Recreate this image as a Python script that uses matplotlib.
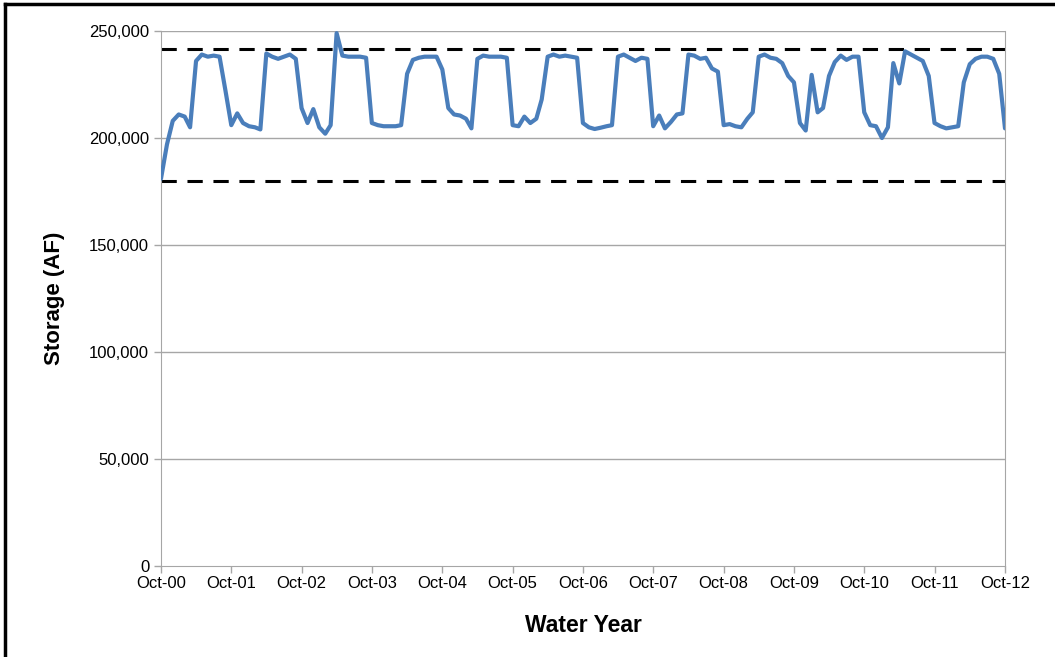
import pandas as pd
import matplotlib
matplotlib.use("Agg")
import matplotlib.pyplot as plt
import matplotlib.dates as mdates
from matplotlib.lines import Line2D
from matplotlib.ticker import FuncFormatter

plt.rcParams['font.family'] = ['Liberation Sans', 'DejaVu Sans']

# monthly storage (AF), Oct-00 .. Oct-12
storage = [
    181000, 197000, 208000, 211000, 210000, 205000, 236000, 239000, 238000, 238500, 238000, 222000,
    206000, 211500, 207000, 205500, 205000, 204000, 239500, 238000, 237000, 238000, 239000, 237000,
    214000, 207000, 213500, 205000, 202000, 206000, 249000, 238500, 238000, 238000, 238000, 237500,
    207000, 206000, 205500, 205500, 205500, 206000, 230000, 236500, 237500, 238000, 238000, 238000,
    232000, 214000, 211000, 210500, 209000, 204500, 237000, 238500, 238000, 238000, 238000, 237500,
    206000, 205500, 210000, 207000, 209000, 218000, 238000, 239000, 238000, 238500, 238000, 237500,
    207000, 205000, 204200, 204800, 205500, 206000, 238000, 239000, 237500, 236000, 237500, 237000,
    205500, 210500, 204500, 207500, 211000, 211500, 239000, 238500, 237000, 237500, 232500, 231000,
    206000, 206500, 205500, 205000, 209000, 212000, 238000, 239000, 237500, 237000, 235000, 229000,
    226000, 207000, 203500, 229500, 212000, 214000, 229000, 235500, 238500, 236500, 238000, 238000,
    212000, 206000, 205500, 200000, 205000, 235000, 225500, 240500, 239000, 237500, 236000, 229000,
    207000, 205500, 204500, 205000, 205500, 226000, 234500, 237000, 238000, 238000, 237000, 230000,
    204500,
]
dates = pd.date_range('2000-10-01', periods=len(storage), freq='MS')

upper_limit = 241500
lower_limit = 180000
y_ticks = [0, 50000, 100000, 150000, 200000, 250000]
x_ticks = pd.date_range('2000-10-01', '2012-10-01', freq='12MS')

fig = plt.figure(figsize=(10.55, 6.57), dpi=100)
ax = fig.add_axes([161 / 1055, 1 - 566 / 657, (1005 - 161) / 1055, (566 - 31) / 657])

for y in y_ticks[1:]:
    ax.axhline(y, color='#a6a6a6', lw=1.0, zorder=1)

ax.axhline(upper_limit, color='black', lw=2.2, ls=(0, (5, 3.5)), zorder=2)
ax.axhline(lower_limit, color='black', lw=2.2, ls=(0, (5, 3.5)), zorder=2)
ax.plot(dates, storage, color='#4a7ebb', lw=3.0, zorder=3,
        solid_joinstyle='round', solid_capstyle='round')

ax.set_xlim(dates[0], dates[-1])
ax.set_ylim(0, 250000)
ax.set_yticks(y_ticks)
ax.yaxis.set_major_formatter(FuncFormatter(lambda v, p: f'{int(v):,}'))
ax.set_xticks(x_ticks)
ax.xaxis.set_major_formatter(mdates.DateFormatter('%b-%y'))

for s in ax.spines.values():
    s.set_color('#a6a6a6')
ax.spines['top'].set_visible(False)
ax.tick_params(axis='both', colors='#a6a6a6', labelcolor='black', labelsize=12, length=5, width=1)
ax.tick_params(axis='x', pad=2)

ax.set_ylabel('Storage (AF)', fontsize=16, fontweight='bold', labelpad=17)
ax.set_xlabel('Water Year', fontsize=16.5, fontweight='bold', labelpad=17)

# outer frame of the screenshot
fig.add_artist(Line2D([5 / 1055, 5 / 1055], [0, 1 - 4 / 657], color='black', lw=2.5))
fig.add_artist(Line2D([5 / 1055, 1], [1 - 4 / 657, 1 - 4 / 657], color='black', lw=2.5))

fig.savefig('out.png', dpi=100)
